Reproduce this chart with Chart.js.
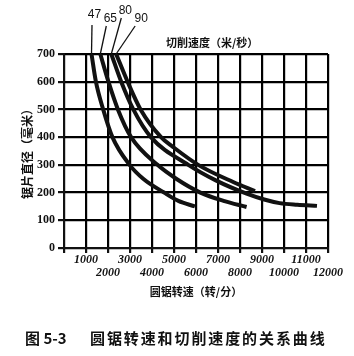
<!DOCTYPE html>
<html>
<head>
<meta charset="utf-8">
<script src="https://cdn.jsdelivr.net/npm/chart.js@4.4.0/dist/chart.umd.min.js"></script>
<style>
  html, body { margin: 0; padding: 0; background: #fff; }
  #wrap { width: 354px; height: 356px; }
</style>
</head>
<body>
<div id="wrap"><canvas id="chart" width="354" height="356"></canvas></div>
<script>
// cutting speed curves (m/s), saw speed in rpm vs blade diameter in mm
const speedLabels = ['47', '65', '80', '90'];

const rpm47 = [1250, 1450, 1780, 2200, 2980, 3600, 4550, 5200, 5950];
const dia47 = [700, 600, 500, 400, 300, 250, 200, 170, 150];

const rpm65 = [1650, 2020, 2450, 3050, 4250, 5100, 6200, 7250, 8300];
const dia65 = [700, 600, 500, 400, 300, 250, 200, 170, 148];

const rpm80 = [2150, 2600, 3150, 3950, 5650, 6900, 8300, 9100, 9800, 10600, 11500];
const dia80 = [700, 600, 500, 400, 300, 244, 196, 175, 162, 156, 152];

const rpm90 = [2370, 2890, 3480, 4410, 4950, 6100, 7690, 8680];
const dia90 = [700, 600, 500, 400, 365, 300, 238, 205];

// axis ticks
const xTickStep = 1000, xMin = 0, xMax = 12000;
const yTickStep = 100, yMin = 0, yMax = 700;

const ink = '#111';
const serif = '"Liberation Serif", "DejaVu Serif", serif';
const cjk = '"Noto Sans CJK SC", sans-serif';

function toPoints(xs, ys) {
    return xs.map((v, i) => ({ x: v, y: ys[i] }));
}

const series = [toPoints(rpm47, dia47), toPoints(rpm65, dia65), toPoints(rpm80, dia80), toPoints(rpm90, dia90)];

// label + leader offsets from the top end of each curve (pixels)
const notes = [
    { tx: 3, ty: -39, lx: 0.5, ly: -29 },
    { tx: 10, ty: -35, lx: 6, ly: -28 },
    { tx: 14, ty: -43, lx: 10, ly: -36 },
    { tx: 25, ty: -35, lx: 19, ly: -28 }
];

const curveNotes = {
    id: 'curveNotes',
    afterDraw(chart) {
        const { ctx, scales: { x, y } } = chart;
        ctx.save();
        ctx.strokeStyle = ink;
        ctx.fillStyle = ink;
        ctx.lineWidth = 1.3;
        ctx.font = '12px "Liberation Sans", sans-serif';
        ctx.textAlign = 'center';
        ctx.textBaseline = 'middle';
        chart.data.datasets.forEach((ds, i) => {
            const p = ds.data[0];
            const px = x.getPixelForValue(p.x);
            const py = y.getPixelForValue(p.y);
            const o = notes[i];
            ctx.beginPath();
            ctx.moveTo(px + o.lx, py + o.ly);
            ctx.lineTo(px, py);
            ctx.stroke();
            ctx.fillText(speedLabels[i], px + o.tx, py + o.ty);
        });

        // heading over the grid
        ctx.font = 'bold 11px ' + cjk;
        ctx.textAlign = 'left';
        ctx.fillText('切削速度（米/秒）', 166, 43);

        // figure caption
        ctx.font = 'bold 15px ' + cjk;
        ctx.fillText('图 5-3', 25, 338);
        const cap = '圆锯转速和切削速度的关系曲线';
        for (let i = 0; i < cap.length; i++) {
            ctx.fillText(cap[i], 90 + i * 16.9, 338);
        }
        ctx.restore();
    }
};

new Chart(document.getElementById('chart'), {
    type: 'line',
    data: {
        datasets: series.map((pts, i) => ({
            label: speedLabels[i],
            data: pts,
            borderColor: ink,
            borderWidth: 4,
            pointRadius: 0,
            fill: false,
            cubicInterpolationMode: 'monotone'
        }))
    },
    options: {
        responsive: false,
        animation: false,
        layout: { padding: { top: 54, right: 26, left: 0, bottom: 56 } },
        plugins: {
            legend: { display: false },
            tooltip: { enabled: false }
        },
        scales: {
            x: {
                type: 'linear',
                min: xMin,
                max: xMax,
                afterFit: (scale) => { scale.height = 52; },
                grid: { display: true, drawOnChartArea: true, color: '#000', tickColor: ink, lineWidth: 2.2, tickLength: 5 },
                border: { color: ink, width: 2 },
                ticks: {
                    stepSize: xTickStep,
                    color: ink,
                    padding: 0,
                    maxRotation: 0,
                    autoSkip: false,
                    font: { family: serif, size: 12, weight: 'bold', style: 'italic', lineHeight: 1.08 },
                    callback: (v) => {
                        if (v === 0) return '';
                        return (v / 1000) % 2 === 1 ? [String(v), ''] : ['', String(v)];
                    }
                },
                title: {
                    display: true,
                    text: '圆锯转速（转/分）',
                    color: ink,
                    padding: { top: 0, bottom: 2 },
                    font: { family: cjk, size: 11, weight: 'bold' }
                }
            },
            y: {
                min: yMin,
                max: yMax,
                afterFit: (scale) => { scale.width = 64; },
                grid: { display: true, drawOnChartArea: true, color: '#000', tickColor: ink, lineWidth: 2.2, tickLength: 6 },
                border: { color: ink, width: 2 },
                ticks: {
                    stepSize: yTickStep,
                    color: ink,
                    padding: 3,
                    font: { family: serif, size: 12, weight: 'bold' }
                },
                title: {
                    display: true,
                    text: '锯片直径（毫米）',
                    color: ink,
                    padding: { top: 20, bottom: 0 },
                    font: { family: cjk, size: 12, weight: 'bold' }
                }
            }
        }
    },
    plugins: [curveNotes]
});
</script>
</body>
</html>
